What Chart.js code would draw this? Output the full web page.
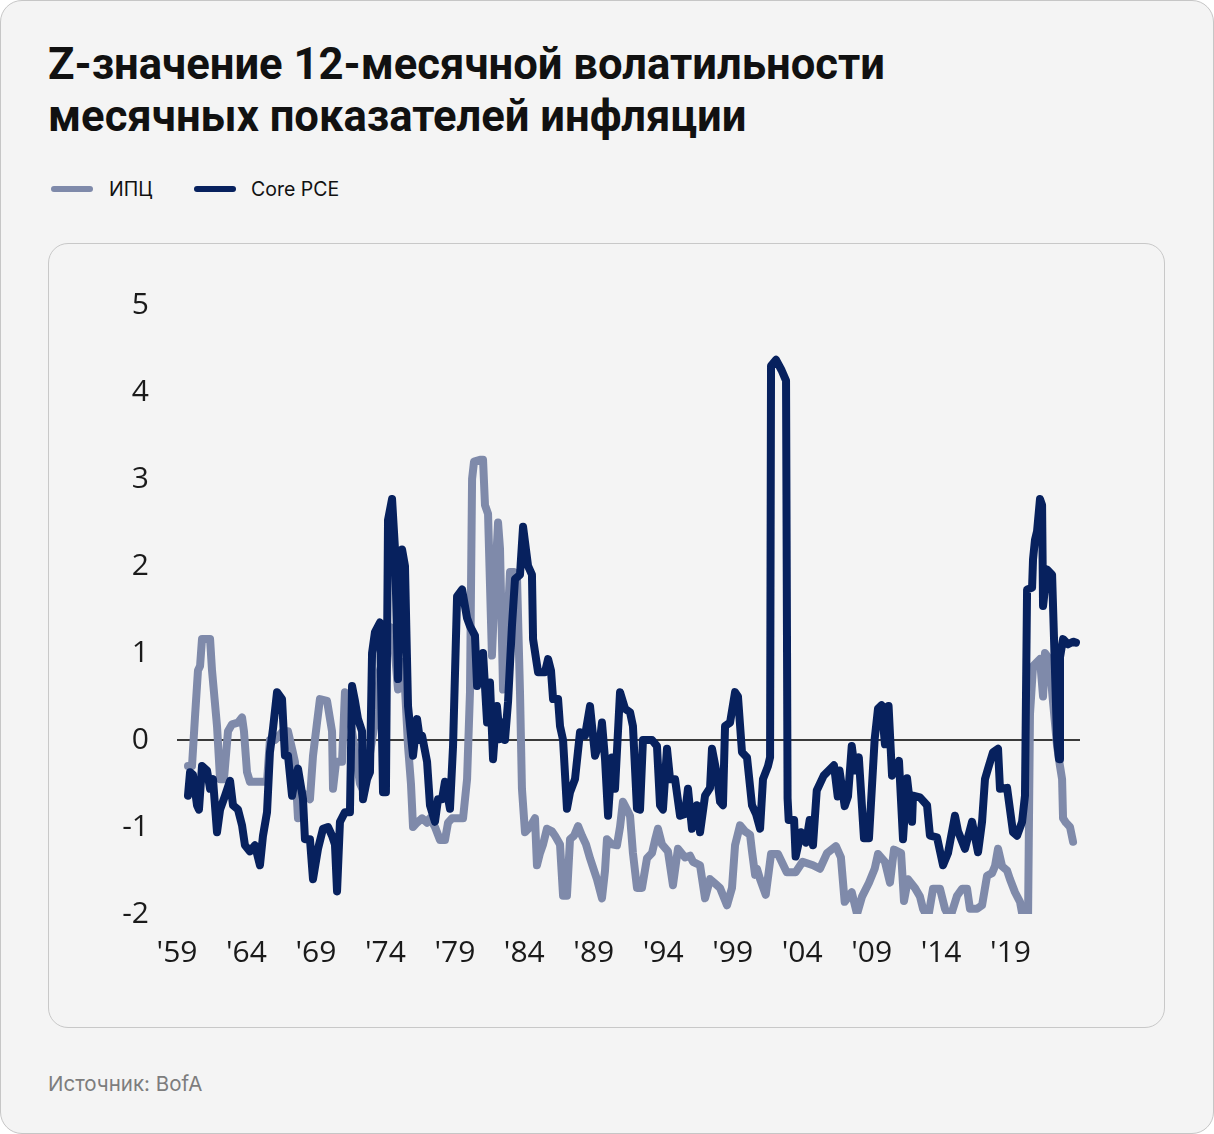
<!DOCTYPE html>
<html lang="ru">
<head>
<meta charset="utf-8">
<script src="https://cdn.jsdelivr.net/npm/chart.js@4"></script>
<style>
  html, body { margin: 0; padding: 0; background: #ffffff; }
  .card {
    position: absolute; left: 0; top: 0; width: 1212px; height: 1132px;
    background: #f4f4f4; border: 1px solid #c6c6c6; border-radius: 22px;
    font-family: Inter, "Noto Sans", sans-serif; color: #111;
  }
  .title {
    position: absolute; left: 47px; top: 38px; margin: 0;
    font-family: Roboto, Inter, sans-serif;
    font-size: 43.6px; font-weight: 700; line-height: 52px; letter-spacing: 0;
  }
  .legend { position: absolute; left: 48px; top: 176px; font-size: 19.5px; height: 24px; }
  .legend span { position: absolute; top: 0; white-space: nowrap; line-height: 24px; }
  .legend i { position: absolute; top: 9px; height: 6px; border-radius: 3px; }
  .panel {
    position: absolute; left: 47px; top: 242px; width: 1115px; height: 783px;
    border: 1px solid #c8c8c8; border-radius: 20px;
  }
  .panel canvas { position: absolute; left: 0; top: 0; }
  .source { position: absolute; left: 47px; top: 1070px; font-size: 20.5px; color: #7d7d7d; }
</style>
</head>
<body>
<div class="card">
  <h1 class="title">Z-значение 12-месячной волатильности<br>месячных показателей инфляции</h1>
  <div class="legend">
    <i style="left:2px;width:42px;background:#7f8aaa"></i><span style="left:60px">ИПЦ</span>
    <i style="left:145px;width:42px;background:#07215e"></i><span style="left:202px">Core PCE</span>
  </div>
  <div class="panel"><canvas id="chart" width="1115" height="783"></canvas></div>
  <div class="source">Источник: BofA</div>
</div>
<script>
// ИПЦ
const cpiYears = [1959.79, 1960.08, 1960.30, 1960.51, 1960.66, 1960.80, 1961.38, 1961.52, 1961.88, 1962.10,
  1962.38, 1962.67, 1962.96, 1963.39, 1963.68, 1963.82, 1964.04, 1964.25, 1965.48, 1965.69,
  1966.05, 1966.63, 1966.99, 1967.28, 1967.49, 1967.71, 1968.00, 1968.36, 1968.57, 1968.79,
  1969.08, 1969.29, 1969.80, 1970.16, 1970.23, 1970.45, 1970.88, 1971.09, 1971.31, 1971.60,
  1971.89, 1972.17, 1972.46, 1972.75, 1973.04, 1973.40, 1973.61, 1973.97, 1974.33, 1974.69,
  1974.91, 1975.20, 1975.41, 1975.63, 1975.84, 1975.99, 1976.28, 1976.64, 1977.00, 1977.21,
  1977.57, 1977.93, 1978.29, 1978.51, 1978.80, 1979.23, 1979.59, 1979.88, 1980.09, 1980.24,
  1980.38, 1980.81, 1981.03, 1981.17, 1981.39, 1981.67, 1981.89, 1982.11, 1982.25, 1982.47,
  1982.75, 1982.97, 1983.26, 1983.47, 1983.69, 1983.83, 1984.05, 1984.41, 1984.77, 1984.91,
  1985.13, 1985.35, 1985.63, 1985.99, 1986.21, 1986.57, 1986.79, 1987.07, 1987.29, 1987.58,
  1987.87, 1988.15, 1988.44, 1988.73, 1989.02, 1989.23, 1989.59, 1989.81, 1989.95, 1990.31,
  1990.67, 1990.89, 1991.10, 1991.39, 1991.61, 1991.82, 1992.11, 1992.47, 1992.83, 1993.19,
  1993.41, 1993.62, 1993.91, 1994.34, 1994.70, 1995.06, 1995.57, 1995.93, 1996.14, 1996.65,
  1997.01, 1997.37, 1997.73, 1998.09, 1998.59, 1998.95, 1999.17, 1999.53, 1999.89, 2000.25,
  2000.39, 2000.61, 2000.75, 2000.97, 2001.38, 2001.76, 2002.26, 2002.89, 2003.53, 2004.03,
  2004.78, 2005.28, 2005.79, 2006.43, 2006.79, 2007.06, 2007.57, 2007.95, 2008.31, 2008.81,
  2009.22, 2009.46, 2009.96, 2010.32, 2010.61, 2011.12, 2011.33, 2011.62, 2012.12, 2012.48,
  2012.70, 2013.06, 2013.42, 2013.92, 2014.28, 2014.64, 2015.15, 2015.51, 2015.87, 2016.08,
  2016.59, 2016.95, 2017.31, 2017.67, 2017.88, 2018.10, 2018.39, 2018.75, 2018.96, 2019.32,
  2019.68, 2019.90, 2020.26, 2020.40, 2020.62, 2021.12, 2021.34, 2021.48, 2021.70, 2021.91,
  2022.35, 2022.56, 2022.71, 2022.78, 2022.99, 2023.28, 2023.50];
const cpiValues = [-0.30, -0.30, 0.28, 0.80, 0.85, 1.16, 1.16, 0.80, 0.16, -0.45,
  -0.45, 0.10, 0.18, 0.20, 0.26, 0.10, -0.37, -0.48, -0.48, 0.00,
  0.00, 0.10, 0.10, -0.10, -0.25, -0.90, -0.60, -0.65, -0.68, -0.18,
  0.20, 0.47, 0.45, 0.10, -0.56, -0.25, -0.25, 0.55, 0.50, 0.10,
  -0.20, -0.50, -0.60, -0.30, 0.00, 0.35, 0.80, 1.00, 1.30, 1.00,
  0.58, 0.90, 0.60, -0.07, -0.50, -1.00, -0.95, -0.90, -0.95, -0.90,
  -1.00, -1.15, -1.15, -0.95, -0.90, -0.90, -0.90, -0.45, 0.55, 3.00,
  3.20, 3.22, 3.22, 2.70, 2.60, 0.97, 1.80, 2.50, 2.20, 0.58,
  1.20, 1.93, 1.93, 1.90, 0.55, -0.56, -1.06, -1.00, -0.90, -1.44,
  -1.30, -1.20, -1.02, -1.05, -1.10, -1.20, -1.79, -1.79, -1.14, -1.10,
  -0.99, -1.10, -1.20, -1.36, -1.50, -1.60, -1.82, -1.50, -1.14, -1.20,
  -1.21, -1.00, -0.71, -0.80, -0.87, -1.30, -1.70, -1.70, -1.36, -1.30,
  -1.15, -1.02, -1.20, -1.28, -1.67, -1.25, -1.35, -1.33, -1.40, -1.44,
  -1.82, -1.60, -1.65, -1.70, -1.90, -1.70, -1.21, -0.98, -1.05, -1.09,
  -1.28, -1.55, -1.48, -1.60, -1.78, -1.31, -1.31, -1.52, -1.52, -1.40,
  -1.44, -1.48, -1.30, -1.22, -1.35, -1.86, -1.75, -2.00, -1.80, -1.64,
  -1.48, -1.31, -1.40, -1.64, -1.26, -1.30, -1.85, -1.60, -1.70, -1.80,
  -1.94, -2.05, -1.71, -1.71, -1.94, -2.05, -1.79, -1.71, -1.71, -1.94,
  -1.94, -1.90, -1.56, -1.53, -1.45, -1.25, -1.45, -1.50, -1.60, -1.75,
  -1.86, -2.05, -2.05, 0.30, 0.85, 0.93, 0.50, 1.00, 0.95, 0.70,
  -0.07, -0.30, -0.45, -0.90, -0.95, -1.00, -1.17];

// Core PCE
const pceYears = [1959.79, 1959.94, 1960.15, 1960.44, 1960.58, 1960.80, 1961.16, 1961.38, 1961.59, 1961.88,
  1962.10, 1962.46, 1962.82, 1963.03, 1963.39, 1963.68, 1963.89, 1964.25, 1964.61, 1964.97,
  1965.19, 1965.48, 1965.69, 1965.91, 1966.20, 1966.56, 1966.77, 1966.99, 1967.28, 1967.49,
  1967.71, 1968.07, 1968.21, 1968.57, 1968.79, 1969.15, 1969.51, 1969.87, 1970.16, 1970.37,
  1970.52, 1970.73, 1971.09, 1971.45, 1971.60, 1971.81, 1972.03, 1972.32, 1972.39, 1972.68,
  1972.89, 1973.04, 1973.25, 1973.61, 1973.83, 1974.04, 1974.19, 1974.48, 1974.69, 1974.91,
  1975.20, 1975.41, 1975.63, 1975.99, 1976.28, 1976.49, 1976.64, 1977.00, 1977.21, 1977.57,
  1977.79, 1978.08, 1978.29, 1978.65, 1978.87, 1979.16, 1979.52, 1979.88, 1980.09, 1980.45,
  1980.60, 1981.03, 1981.32, 1981.53, 1981.75, 1982.03, 1982.25, 1982.47, 1982.61, 1982.83,
  1983.11, 1983.33, 1983.69, 1983.91, 1984.27, 1984.55, 1984.63, 1984.99, 1985.49, 1985.71,
  1985.92, 1986.07, 1986.43, 1986.57, 1986.79, 1987.07, 1987.29, 1987.65, 1988.01, 1988.37,
  1988.73, 1989.09, 1989.45, 1989.59, 1989.81, 1990.03, 1990.31, 1990.53, 1990.89, 1991.25,
  1991.61, 1991.82, 1992.11, 1992.33, 1992.54, 1993.19, 1993.55, 1993.77, 1993.98, 1994.27,
  1994.49, 1994.85, 1995.21, 1995.57, 1995.78, 1996.07, 1996.43, 1996.65, 1997.01, 1997.37,
  1997.51, 1997.87, 1998.09, 1998.30, 1998.45, 1998.81, 1999.17, 1999.38, 1999.67, 2000.03,
  2000.39, 2000.68, 2000.97, 2001.18, 2001.54, 2001.69, 2001.76, 2002.12, 2002.52, 2002.84,
  2002.95, 2003.03, 2003.42, 2003.53, 2003.92, 2004.28, 2004.54, 2004.78, 2005.05, 2005.55,
  2006.29, 2006.56, 2006.69, 2007.06, 2007.30, 2007.57, 2007.80, 2008.08, 2008.45, 2008.81,
  2009.22, 2009.46, 2009.72, 2009.96, 2010.22, 2010.47, 2010.97, 2011.26, 2011.55, 2011.91,
  2011.98, 2012.48, 2012.99, 2013.20, 2013.71, 2014.14, 2014.50, 2015.00, 2015.22, 2015.72,
  2016.23, 2016.66, 2016.95, 2017.16, 2017.38, 2017.74, 2018.10, 2018.24, 2018.75, 2019.18,
  2019.47, 2019.83, 2020.04, 2020.19, 2020.55, 2020.62, 2020.76, 2020.91, 2021.12, 2021.27,
  2021.34, 2021.63, 2021.99, 2022.35, 2022.49, 2022.56, 2022.78, 2023.14, 2023.50, 2023.71];
const pceValues = [-0.64, -0.37, -0.40, -0.75, -0.80, -0.30, -0.35, -0.56, -0.45, -1.06,
  -0.80, -0.64, -0.47, -0.75, -0.80, -0.98, -1.21, -1.28, -1.21, -1.44,
  -1.10, -0.83, -0.14, 0.13, 0.55, 0.47, -0.18, -0.18, -0.64, -0.45,
  -0.33, -0.68, -1.14, -1.14, -1.60, -1.25, -1.02, -1.00, -1.10, -1.20,
  -1.74, -0.94, -0.83, -0.83, 0.62, 0.45, 0.24, 0.10, -0.68, -0.45,
  -0.37, 1.00, 1.24, 1.35, -0.60, -0.60, 2.53, 2.77, 2.20, 0.70,
  2.19, 2.00, 0.39, -0.18, 0.24, 0.00, 0.05, -0.25, -0.75, -0.94,
  -0.68, -0.68, -0.48, -0.79, -0.07, 1.65, 1.73, 1.40, 1.31, 1.20,
  0.62, 1.00, 0.20, 0.66, -0.22, 0.39, 0.01, 0.20, 0.00, 0.44,
  1.31, 1.85, 1.90, 2.45, 2.00, 1.90, 1.16, 0.78, 0.78, 0.93,
  0.80, 0.47, 0.47, 0.16, 0.00, -0.79, -0.60, -0.45, 0.09, 0.05,
  0.39, -0.18, 0.00, 0.20, -0.22, -0.87, -0.20, -0.56, 0.55, 0.36,
  0.32, 0.16, -0.79, -0.80, 0.00, 0.00, -0.07, -0.75, -0.80, -0.10,
  -0.45, -0.45, -0.87, -0.85, -0.56, -1.02, -0.75, -1.06, -0.64, -0.55,
  -0.10, -0.40, -0.71, -0.75, 0.16, 0.20, 0.55, 0.50, -0.14, -0.20,
  -0.75, -0.85, -1.02, -0.45, -0.30, -0.20, 4.30, 4.37, 4.25, 4.13,
  -0.67, -0.92, -0.92, -1.34, -1.06, -1.18, -0.92, -1.21, -0.58, -0.41,
  -0.29, -0.65, -0.35, -0.76, -0.65, -0.07, -0.35, -0.20, -1.13, -1.13,
  0.01, 0.36, 0.40, -0.05, 0.39, -0.41, -0.24, -1.14, -0.44, -0.94,
  -0.64, -0.66, -0.75, -1.10, -1.12, -1.44, -1.30, -0.87, -1.05, -1.25,
  -0.94, -1.29, -0.94, -0.45, -0.33, -0.14, -0.10, -0.56, -0.55, -1.06,
  -1.10, -0.94, -0.64, 1.73, 1.75, 2.08, 2.30, 2.40, 2.77, 2.70,
  1.54, 1.96, 1.90, 0.00, -0.22, 0.95, 1.16, 1.10, 1.13, 1.12];

const xTickYears = [1959, 1964, 1969, 1974, 1979, 1984, 1989, 1994, 1999, 2004, 2009, 2014, 2019];

const toPoints = (xs, ys) => xs.map((x, i) => ({ x: x, y: ys[i] }));

const tickFont = { family: "'Open Sans', 'Noto Sans', sans-serif", size: 30, weight: '400' };

new Chart(document.getElementById('chart'), {
  type: 'line',
  data: {
    datasets: [
      {
        label: 'ИПЦ',
        data: toPoints(cpiYears, cpiValues),
        borderColor: '#7f8aaa',
        borderWidth: 8,
        order: 1,
      },
      {
        label: 'Core PCE',
        data: toPoints(pceYears, pceValues),
        borderColor: '#07215e',
        borderWidth: 8,
        order: 0,
      },
    ],
  },
  options: {
    responsive: false,
    animation: false,
    events: [],
    layout: { padding: { top: 61, right: 84, left: 0, bottom: 0 } },
    elements: {
      point: { radius: 0 },
      line: { tension: 0, borderJoinStyle: 'round', borderCapStyle: 'round', fill: false },
    },
    datasets: { line: { clip: { left: false, right: false, top: false, bottom: 0 } } },
    plugins: { legend: { display: false }, tooltip: { enabled: false } },
    scales: {
      x: {
        type: 'linear',
        min: 1959,
        max: 2024,
        afterBuildTicks: (axis) => { axis.ticks = xTickYears.map(v => ({ value: v })); },
        afterFit: (axis) => { axis.height = 113; },
        grid: { display: false, drawTicks: false },
        border: { display: false },
        ticks: {
          padding: 21,
          maxRotation: 0,
          autoSkip: false,
          color: '#1a1a1a',
          font: tickFont,
          callback: (v) => "'" + String(v).slice(2),
        },
      },
      y: {
        min: -2,
        max: 5,
        afterFit: (axis) => { axis.width = 128; },
        grid: {
          drawTicks: false,
          lineWidth: 2,
          color: (ctx) => (ctx.tick && ctx.tick.value === 0 ? '#3a3a3a' : 'rgba(0,0,0,0)'),
        },
        border: { display: false },
        ticks: { stepSize: 1, padding: 28, color: '#1a1a1a', font: tickFont },
      },
    },
  },
});
</script>
</body>
</html>
